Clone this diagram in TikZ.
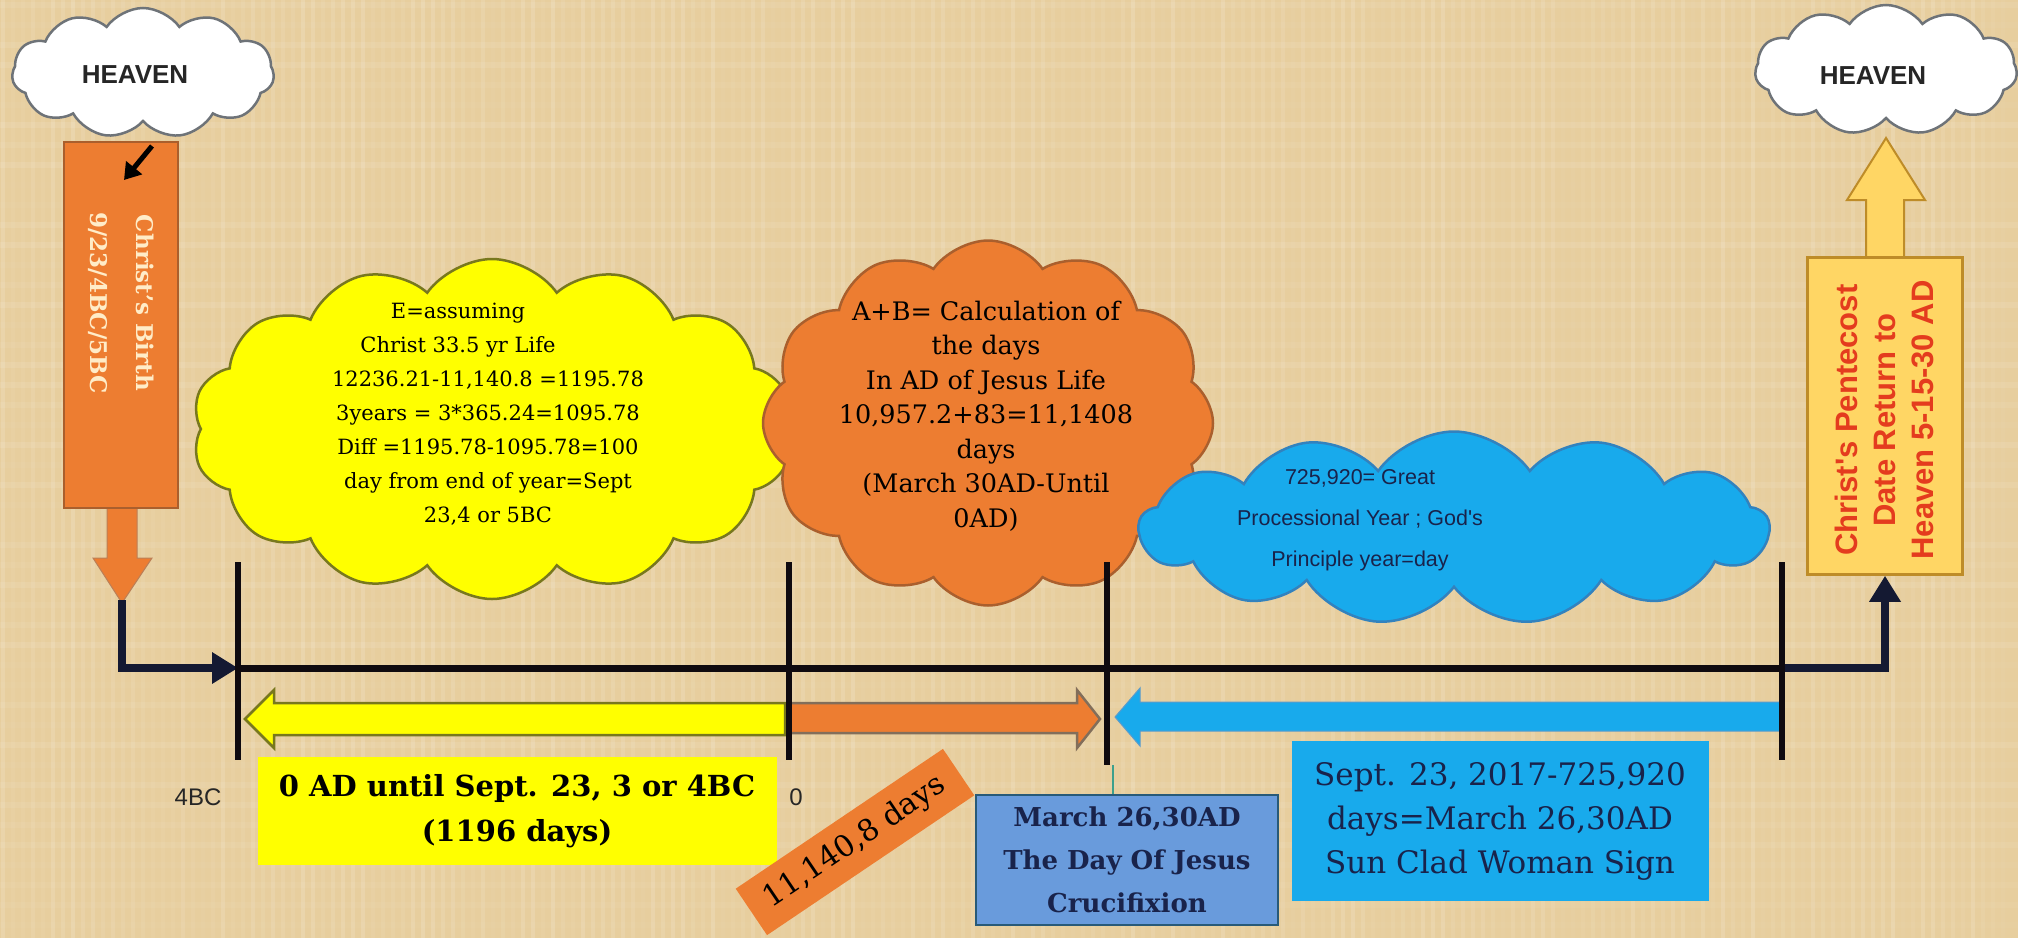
\documentclass[tikz,border=0pt]{standalone}
\usepackage{fontspec}
\setmainfont{DejaVu Serif}
\newfontfamily\sansf{Liberation Sans}
\usetikzlibrary{shapes.symbols,arrows.meta}
\definecolor{bg}{RGB}{231,206,158}
\definecolor{yel}{RGB}{255,255,0}
\definecolor{yelb}{RGB}{120,120,30}
\definecolor{org}{RGB}{237,125,49}
\definecolor{orgb}{RGB}{170,95,45}
\definecolor{blu}{RGB}{24,170,236}
\definecolor{blub}{RGB}{50,130,190}
\definecolor{cruc}{RGB}{105,155,220}
\definecolor{crucb}{RGB}{40,90,120}
\definecolor{navy}{RGB}{25,35,75}
\definecolor{peny}{RGB}{255,214,100}
\definecolor{penb}{RGB}{190,140,40}
\definecolor{penr}{RGB}{228,60,30}
\definecolor{cream}{RGB}{255,236,200}
\definecolor{cloudb}{RGB}{110,115,120}
\definecolor{tealc}{RGB}{60,160,140}
\definecolor{lineblk}{RGB}{15,10,15}
\definecolor{connc}{RGB}{20,25,50}
\definecolor{arrgray}{RGB}{130,110,90}
\begin{document}
\begin{tikzpicture}[x=1pt,y=-1pt,
  tickl/.style={line width=6pt, draw=lineblk},
  mainl/.style={line width=7pt, draw=lineblk},
  connl/.style={line width=8pt, draw=connc, -{Triangle[length=26pt,width=30pt]}},
  cloudbase/.style={cloud, cloud puffs=14, cloud puff arc=110, inner sep=0pt, line width=2.5pt},
  heavenc/.style={cloudbase, cloud puffs=11, fill=white, draw=cloudb, minimum width=262pt, minimum height=130pt},
  heavent/.style={font=\sansf\bfseries\fontsize{26}{30}\selectfont, text=black!85},
  ctext/.style={align=center, font=\fontsize{21}{34}\selectfont, text=black},
  boxtext/.style={align=center, text=navy},
  lbl/.style={font=\sansf\fontsize{24}{27}\selectfont, text=black!85}
]
\useasboundingbox (0,0) rectangle (2018,938);
\fill[bg] (0,0) rectangle (2018,938);
% faint parchment texture
\pgfmathsetseed{7}
\foreach \i in {0,...,200}{
  \pgfmathsetmacro{\op}{0.03+0.12*rnd}
  \draw[white, opacity=\op, line width=4pt] (\i*10+3,0) -- (\i*10+3,938);
}
\foreach \j in {0,...,46}{
  \pgfmathsetmacro{\op}{0.02+0.08*rnd}
  \draw[white, opacity=\op, line width=6pt] (0,\j*20+5) -- (2018,\j*20+5);
}

% ---- clouds ----
\node[cloudbase, fill=yel, draw=yelb, minimum width=600pt, minimum height=340pt] (ycloud) at (492,429) {};
\node[ctext] (ytext) at (488,414) {E=assuming\kern60pt\\Christ 33.5 yr Life\kern60pt\\12236.21-11,140.8 =1195.78\\3years = 3*365.24=1095.78\\Diff =1195.78-1095.78=100\\day from end of year=Sept\\23,4 or 5BC};

\node[cloudbase, cloud puffs=12, fill=org, draw=orgb, minimum width=450pt, minimum height=365pt] (ocloud) at (988,423) {};
\node[ctext, font=\fontsize{25.5}{34.5}\selectfont] (otext) at (986,416) {A+B= Calculation of\\the days\\In AD of Jesus Life\\10,957.2+83=11,1408\\days\\(March 30AD-Until\\0AD)};

\node[cloudbase, cloud puffs=13, fill=blu, draw=blub, minimum width=630pt, minimum height=193pt] (bcloud) at (1454,528) {};
\node[ctext, text=navy, font=\sansf\fontsize{21.5}{41}\selectfont] (btext) at (1360,520) {725,920= Great\\Processional Year ; God's\\Principle year=day};

% ---- heaven clouds ----
\node[heavenc] (hl) at (143,73) {};
\node[heavent] (hlt) at (135,75) {HEAVEN};
\node[heavenc] (hr) at (1886,70) {};
\node[heavent] (hrt) at (1873,76) {HEAVEN};

% ---- left birth box with down arrow ----
\fill[org, draw=orgb!80, line width=1pt] (107,500) -- (107,558) -- (93,558) -- (122,603) -- (152,558) -- (137,558) -- (137,500) -- cycle;
\node[fill=org, draw=orgb, line width=2pt, minimum width=114pt, minimum height=366pt, inner sep=0pt] (birth) at (121,325) {};
\node[rotate=-90, align=center, text=cream, font=\bfseries\fontsize{23}{46}\selectfont] (birtht) at (121,303) {Christ's Birth\\9/23/4BC/5BC};
\coordinate (hlarr) at (152,146);
\coordinate (hlarrend) at (124,180);
\draw[line width=5pt, draw=black, -{Triangle[length=16pt,width=20pt]}] (hlarr) -- (hlarrend);

% ---- right pentecost box with up arrow ----
\fill[peny, draw=penb, line width=2pt] (1866,262) -- (1866,200) -- (1847,200) -- (1886,138) -- (1925,200) -- (1904,200) -- (1904,262) -- cycle;
\node[fill=peny, draw=penb, line width=2.5pt, minimum width=155pt, minimum height=317pt, inner sep=0pt] (pen) at (1885,416) {};
\node[rotate=90, align=center, text=penr, font=\sansf\bfseries\fontsize{31}{38}\selectfont] (pent) at (1884,420) {Christ's Pentecost\\Date Return to\\Heaven 5-15-30 AD};

% ---- timeline ----
\coordinate (t1) at (238,668);
\coordinate (t2) at (789,668);
\coordinate (t3) at (1107,668);
\coordinate (t4) at (1782,668);
\coordinate (birthtip) at (122,600);
\draw[mainl] (t1) -- (t4);
\draw[connl] (birthtip) |- (t1);
\draw[connl] (t4) -| (pen.south);

% block arrows
\fill[yel, draw=yelb, line width=2.5pt] (785,703) -- (274,703) -- (274,690) -- (245,719) -- (274,748) -- (274,735) -- (785,735) -- cycle;
\fill[org, draw=arrgray, line width=2.5pt] (790,703) -- (1077,703) -- (1077,690) -- (1100,719) -- (1077,748) -- (1077,733) -- (790,733) -- cycle;
\fill[blu, draw=blub!80, line width=1pt] (1782,702) -- (1140,702) -- (1140,688) -- (1115,717) -- (1140,746) -- (1140,731) -- (1782,731) -- cycle;

% ticks
\draw[tickl] (238,562) -- (238,760);
\draw[tickl] (789,562) -- (789,760);
\draw[tickl] (1107,562) -- (1107,765);
\draw[tickl] (1782,562) -- (1782,760);

\node[lbl] (l4bc) at (198,797) {4BC};
\node[lbl] (l0) at (796,797) {0};

% ---- boxes below ----
\node[fill=yel, minimum width=519pt, minimum height=108pt, inner sep=0pt, align=center, font=\bfseries\fontsize{29}{45}\selectfont] (ybox) at (517,811) {0 AD until Sept. 23, 3 or 4BC\\(1196 days)};

\node[fill=org, rotate=34, minimum width=250pt, minimum height=56pt, inner sep=0pt, font=\fontsize{30}{34}\selectfont] (daysl) at (855,842) {11,140,8 days};

\node[fill=cruc, draw=crucb, line width=2pt, minimum width=302pt, minimum height=130pt, inner sep=0pt, boxtext, font=\bfseries\fontsize{26}{43}\selectfont] (cruc) at (1127,860) {March 26,30AD\\The Day Of Jesus\\Crucifixion};
\coordinate (t3b) at (1113,765);
\draw[tealc, line width=2pt] (t3b) -- (cruc.north -| t3b);

\node[fill=blu, minimum width=417pt, minimum height=160pt, inner sep=0pt, boxtext, font=\fontsize{31}{44}\selectfont] (sunbox) at (1500,821) {Sept. 23, 2017-725,920\\days=March 26,30AD\\Sun Clad Woman Sign};
\end{tikzpicture}
\end{document}
